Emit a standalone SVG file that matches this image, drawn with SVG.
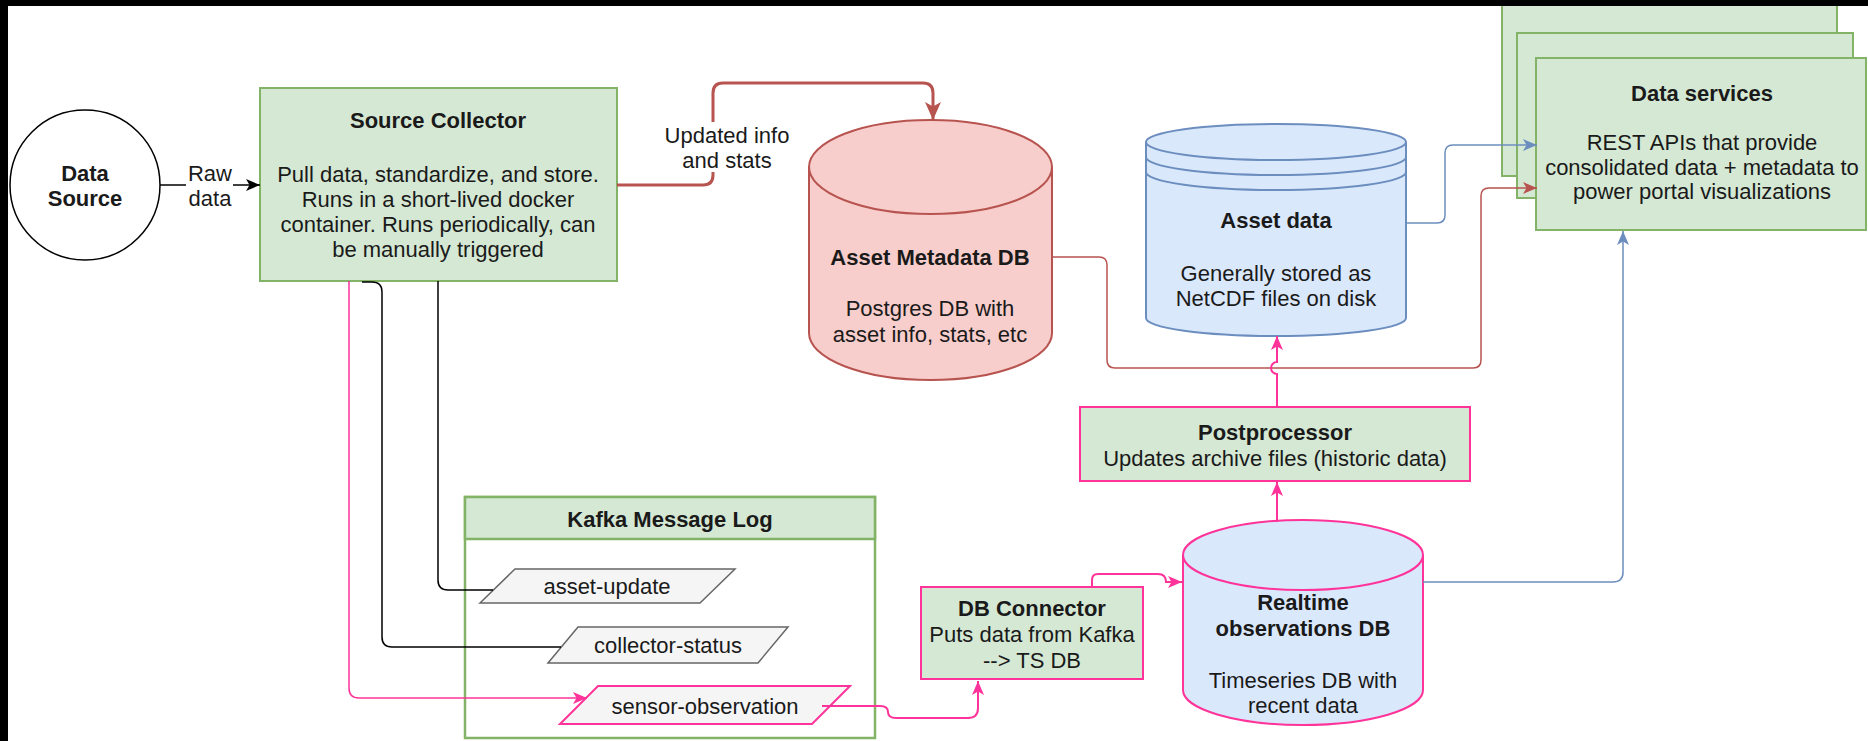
<svg xmlns="http://www.w3.org/2000/svg" width="1868" height="741" viewBox="0 0 1868 741">
<style>
text{font-family:"Liberation Sans",Arial,sans-serif;font-size:22px;fill:#1a1a1a;text-anchor:middle;dominant-baseline:central}
.b{font-weight:bold}
.green{fill:#d5e8d4;stroke:#82b366;stroke-width:2}
.red{fill:#f8cecc;stroke:#b85450;stroke-width:2}
.blue{fill:#dae8fc;stroke:#6c8ebf;stroke-width:2}
.grey{fill:#f5f5f5;stroke:#666666;stroke-width:1.5}
.c{fill:none}
</style>
<defs>
<marker id="aBlack" markerUnits="userSpaceOnUse" markerWidth="14" markerHeight="12" refX="14" refY="6" orient="auto"><path d="M0,0 L14,6 L0,12 L3.5,6 Z" fill="#000"/></marker>
<marker id="aRedBig" markerUnits="userSpaceOnUse" markerWidth="18" markerHeight="16" refX="18" refY="8" orient="auto"><path d="M0,0 L18,8 L0,16 L4.5,8 Z" fill="#b85450"/></marker>
<marker id="aRed" markerUnits="userSpaceOnUse" markerWidth="14" markerHeight="12" refX="14" refY="6" orient="auto"><path d="M0,0 L14,6 L0,12 L3.5,6 Z" fill="#b85450"/></marker>
<marker id="aBlue" markerUnits="userSpaceOnUse" markerWidth="14" markerHeight="12" refX="14" refY="6" orient="auto"><path d="M0,0 L14,6 L0,12 L3.5,6 Z" fill="#6c8ebf"/></marker>
<marker id="aPink" markerUnits="userSpaceOnUse" markerWidth="14" markerHeight="12" refX="14" refY="6" orient="auto"><path d="M0,0 L14,6 L0,12 L3.5,6 Z" fill="#ff3399"/></marker>
</defs>
<rect x="0" y="0" width="1868" height="741" fill="#ffffff"/>

<g id="data-services">
<rect class="green" x="1502" y="-5" width="335" height="181"/>
<rect class="green" x="1517" y="33" width="336" height="165"/>
<rect class="green" x="1536" y="58" width="330" height="172"/>
<text class="b" x="1702" y="93">Data services</text>
<text x="1702" y="142">REST APIs that provide</text>
<text x="1702" y="167">consolidated data + metadata to</text>
<text x="1702" y="191">power portal visualizations</text>
</g>

<g id="data-source">
<circle cx="85" cy="185" r="75" fill="#ffffff" stroke="#000" stroke-width="1.5"/>
<text class="b" x="85" y="173">Data</text>
<text class="b" x="85" y="198">Source</text>
</g>

<g id="source-collector">
<rect class="green" x="260" y="88" width="357" height="193"/>
<text class="b" x="438" y="120">Source Collector</text>
<text x="438" y="174">Pull data, standardize, and store.</text>
<text x="438" y="199">Runs in a short-lived docker</text>
<text x="438" y="224">container. Runs periodically, can</text>
<text x="438" y="249">be manually triggered</text>
</g>

<g id="asset-metadata-db">
<path class="red" d="M809,167 A121.5,47 0 0 1 1052,167 V333 A121.5,47 0 0 1 809,333 Z"/>
<path class="red" fill="none" d="M809,167 A121.5,47 0 0 0 1052,167"/>
<text class="b" x="930" y="257">Asset Metadata DB</text>
<text x="930" y="308">Postgres DB with</text>
<text x="930" y="334">asset info, stats, etc</text>
</g>

<g id="asset-data">
<path class="blue" d="M1146,142 A130,18 0 0 1 1406,142 V318 A130,18 0 0 1 1146,318 Z"/>
<path class="c" stroke="#6c8ebf" stroke-width="2" d="M1146,142 A130,18 0 0 0 1406,142 M1146,157 A130,18 0 0 0 1406,157 M1146,172 A130,18 0 0 0 1406,172"/>
<text class="b" x="1276" y="220">Asset data</text>
<text x="1276" y="273">Generally stored as</text>
<text x="1276" y="298">NetCDF files on disk</text>
</g>

<g id="postprocessor">
<rect x="1080" y="407" width="390" height="74" fill="#d5e8d4" stroke="#ff3399" stroke-width="2"/>
<text class="b" x="1275" y="432">Postprocessor</text>
<text x="1275" y="458">Updates archive files (historic data)</text>
</g>

<g id="kafka-message-log">
<rect x="465" y="497" width="410" height="241" fill="#ffffff" stroke="#82b366" stroke-width="2.5"/>
<rect x="465" y="497" width="410" height="42" fill="#d5e8d4" stroke="#82b366" stroke-width="2.5"/>
<text class="b" x="670" y="519">Kafka Message Log</text>
</g>

<g id="asset-update">
<polygon class="grey" points="480,603 515,569 735,569 700,603"/>
<text x="607" y="586">asset-update</text>
</g>

<g id="collector-status">
<polygon class="grey" points="548,663 578,627 788,627 758,663"/>
<text x="668" y="645">collector-status</text>
</g>

<g id="sensor-observation">
<polygon points="560,724 598,686 850,686 812,724" fill="#f5f5f5" stroke="#ff3399" stroke-width="2"/>
<text x="705" y="706">sensor-observation</text>
</g>

<g id="db-connector">
<rect x="921" y="587" width="222" height="92" fill="#d5e8d4" stroke="#ff3399" stroke-width="2"/>
<text class="b" x="1032" y="608">DB Connector</text>
<text x="1032" y="634">Puts data from Kafka</text>
<text x="1032" y="660">--&gt; TS DB</text>
</g>

<g id="realtime-db">
<path d="M1183,555 A120,35 0 0 1 1423,555 V690 A120,35 0 0 1 1183,690 Z" fill="#dae8fc" stroke="#ff3399" stroke-width="2"/>
<path d="M1183,555 A120,35 0 0 0 1423,555" fill="none" stroke="#ff3399" stroke-width="2"/>
<text class="b" x="1303" y="602">Realtime</text>
<text class="b" x="1303" y="628">observations DB</text>
<text x="1303" y="680">Timeseries DB with</text>
<text x="1303" y="705">recent data</text>
</g>

<g id="connectors" fill="none">
<path d="M160,185 H260" stroke="#000" stroke-width="1.5" marker-end="url(#aBlack)"/>
<path d="M617,185 H703 Q713,185 713,175 V93 Q713,83 723,83 H923 Q933,83 933,93 V120" stroke="#b85450" stroke-width="3" marker-end="url(#aRedBig)"/>
<path d="M1052,257 H1099 Q1107,257 1107,265 V360 Q1107,368 1115,368 H1473 Q1481,368 1481,360 V196 Q1481,188 1489,188 H1537" stroke="#b85450" stroke-width="1.5" marker-end="url(#aRed)"/>
<path d="M1406,223 H1437 Q1445,223 1445,215 V153 Q1445,145 1453,145 H1537" stroke="#6c8ebf" stroke-width="1.5" marker-end="url(#aBlue)"/>
<path d="M1423,582 H1613 Q1623,582 1623,572 V231" stroke="#6c8ebf" stroke-width="1.5" marker-end="url(#aBlue)"/>
<path d="M349,281 V688 Q349,698 359,698 H587" stroke="#ff3399" stroke-width="1.5" marker-end="url(#aPink)"/>
<path d="M362,282 H372 Q382,282 382,292 V637 Q382,647 392,647 H561" stroke="#000" stroke-width="1.5"/>
<path d="M438,281 V580 Q438,590 448,590 H493" stroke="#000" stroke-width="1.5"/>
<path d="M822,706 H880 Q888,706 888,712 Q888,718 896,718 H968 Q978,718 978,708 V681" stroke="#ff3399" stroke-width="2" marker-end="url(#aPink)"/>
<path d="M1092,587 V580 Q1092,574 1098,574 H1158 Q1166,574 1166,582 H1182" stroke="#ff3399" stroke-width="2" marker-end="url(#aPink)"/>
<path d="M1277,522 V482" stroke="#ff3399" stroke-width="2" marker-end="url(#aPink)"/>
<path d="M1277,407 V374 A6,6 0 0 1 1277,362 V336" stroke="#ff3399" stroke-width="2" marker-end="url(#aPink)"/>
<rect x="186" y="160" width="47" height="50" fill="#ffffff"/>
<text x="210" y="173">Raw</text>
<text x="210" y="198">data</text>
<rect x="665" y="122" width="125" height="50" fill="#ffffff"/>
<text x="727" y="135">Updated info</text>
<text x="727" y="160">and stats</text>
</g>

<rect x="0" y="0" width="1868" height="6" fill="#000"/>
<rect x="0" y="0" width="8" height="741" fill="#000"/>
</svg>
